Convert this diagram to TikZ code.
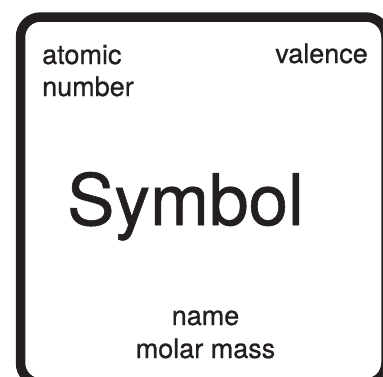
\documentclass[tikz,border=0pt]{standalone}
\usepackage{fontspec}
\setmainfont[FakeBold=0.8]{TeX Gyre Heros}
\definecolor{ink}{RGB}{35,31,32}
\usepackage{tikz}

\begin{document}
\begin{tikzpicture}[x=1pt, y=-1pt,
    cardtxt/.style={text=ink, inner sep=0pt, font=\fontsize{27}{32}\selectfont},
    bigtxt/.style={text=ink, inner sep=0pt, font=\fontsize{71}{80}\selectfont}]
        \useasboundingbox (0,0) rectangle (383,376);
        \clip (0,0) rectangle (383,376);
        \draw[ink, line width=9.5pt, rounded corners=20pt] (20.5,17) rectangle (386,383);
        \node[cardtxt, anchor=base west] (atomic) at (42,64) {atomic};
        \node[cardtxt, anchor=base west] (number) at (42,96) {number};
        \node[cardtxt, anchor=base east] (valence) at (368,63) {valence};
        \node[bigtxt, anchor=base] (symbol) at (185.5,225) {Symbol};
        \node[cardtxt, anchor=base] (name) at (205.5,325) {name};
        \node[cardtxt, anchor=base] (molar) at (205.5,358) {molar mass};
      \end{tikzpicture}
\end{document}
